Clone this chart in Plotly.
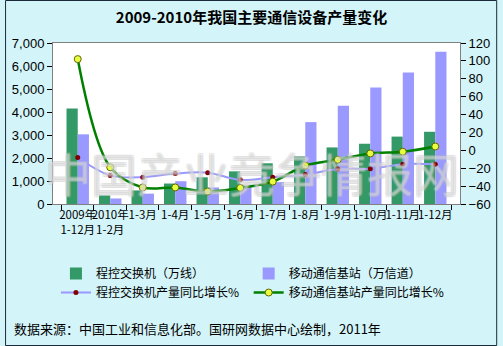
import plotly.graph_objects as go

categories = ["2009年<br>1-12月", "2010年<br>1-2月", "1-3月", "1-4月", "1-5月", "1-6月",
              "1-7月", "1-8月", "1-9月", "1-10月", "1-11月", "1-12月"]
switch_output = [4150, 370, 590, 890, 1160, 1420, 1770, 2070, 2460, 2620, 2930, 3140]
base_output = [3030, 240, 450, 990, 720, 800, 950, 3560, 4270, 5060, 5720, 6620]
switch_growth = [-8, -28, -30, -26, -25, -33, -30, -27, -21, -20.5, -15.5, -15.5]
base_growth = [102, -19, -41.5, -41.5, -46, -42, -35, -17, -10.5, -3.5, -1.6, 4.3]

names = ["程控交换机（万线）", "移动通信基站（万信道）", "程控交换机产量同比增长%", "移动通信基站产量同比增长%"]
title = "2009-2010年我国主要通信设备产量变化"
source = "数据来源：中国工业和信息化部。国研网数据中心绘制，2011年"
watermark = "中国产业竞争情报网"

W, H = 503, 346
ML, MR, MT, MB = 49, 38, 43, 142
PW, PH = W - ML - MR, H - MT - MB

CJK = "Noto Sans CJK SC"
NUM = "Liberation Sans"

fig = go.Figure()
fig.add_trace(go.Bar(x=categories, y=switch_output, name=names[0], legend="legend",
                     marker=dict(color="#339966", line=dict(width=0)), yaxis="y"))
fig.add_trace(go.Bar(x=categories, y=base_output, name=names[1], legend="legend2",
                     marker=dict(color="#9999ff", line=dict(width=0)), yaxis="y"))
fig.add_trace(go.Scatter(x=categories, y=switch_growth, name=names[2], yaxis="y2", legend="legend",
                         mode="lines+markers",
                         line=dict(color="#9999ff", width=2, shape="spline", smoothing=1),
                         marker=dict(color="#800000", size=5)))
fig.add_trace(go.Scatter(x=categories, y=base_growth, name=names[3], yaxis="y2", legend="legend2",
                         mode="lines+markers",
                         line=dict(color="#008000", width=2.5, shape="spline", smoothing=1),
                         marker=dict(color="#e6ff40", size=7, line=dict(color="#666600", width=1))))

leg_common = dict(orientation="v", xanchor="left", yanchor="top", y=(MT + PH - 259) / PH,
                  bgcolor="rgba(0,0,0,0)", font=dict(family=CJK, size=12, color="#000000"),
                  traceorder="normal", itemwidth=30, tracegroupgap=0)

fig.update_layout(
    width=W, height=H,
    margin=dict(l=ML, r=MR, t=MT, b=MB),
    paper_bgcolor="#d3f4f9",
    plot_bgcolor="#ffffff",
    barmode="group", bargap=0.31, bargroupgap=0,
    font=dict(family=CJK, size=12, color="#000000"),
    title=dict(text="<b>" + title + "</b>", x=0.5, xanchor="center", y=1 - 18 / H, yanchor="middle",
               font=dict(family=CJK, size=15, color="#000000")),
    xaxis=dict(type="category", tickangle=0, showgrid=False,
               ticks="outside", tickson="boundaries", ticklen=5, tickcolor="#000000",
               showline=True, linecolor="#808080", linewidth=1, mirror=True,
               tickfont=dict(family=CJK, size=11.5, color="#000000")),
    yaxis=dict(range=[0, 7000], dtick=1000, tickformat=",", showgrid=False, zeroline=False,
               ticks="outside", ticklen=5, tickcolor="#000000",
               showline=True, linecolor="#808080", linewidth=1, mirror=True,
               tickfont=dict(family=NUM, size=13, color="#000000")),
    yaxis2=dict(range=[-60, 120], dtick=20, overlaying="y", side="right", showgrid=False,
                zeroline=False, ticks="outside", ticklen=5, tickcolor="#000000",
                showline=True, linecolor="#808080", linewidth=1,
                tickfont=dict(family=NUM, size=13, color="#000000")),
    legend=dict(x=(52 - ML) / PW, **leg_common),
    legend2=dict(x=(249 - ML) / PW, **leg_common),
    showlegend=True,
)

fig.add_annotation(text=source, xref="paper", yref="paper",
                   x=(7 - ML) / PW, xanchor="left", y=(MT + PH - 328) / PH, yanchor="middle",
                   showarrow=False, font=dict(family=CJK, size=13, color="#000000"))

fig.add_annotation(text=watermark, xref="paper", yref="paper",
                   x=(252 - ML) / PW, xanchor="center", y=(MT + PH - 172) / PH, yanchor="middle",
                   showarrow=False,
                   font=dict(family=CJK, size=46, color="rgba(255,255,255,0.25)",
                             shadow="-1px -1px 0 #bdbdbd, 1px -1px 0 #bdbdbd, -1px 1px 0 #bdbdbd, 1px 1px 0 #bdbdbd"))

# outer frame
fig.add_shape(type="rect", xref="paper", yref="paper",
              x0=(0.5 - ML) / PW, x1=(W - 0.5 - ML) / PW,
              y0=(MT + PH - (H - 0.5)) / PH, y1=(MT + PH - 0.5) / PH,
              line=dict(color="#1a2a3a", width=1), fillcolor="rgba(0,0,0,0)", layer="above")

fig.write_html("out.html")
